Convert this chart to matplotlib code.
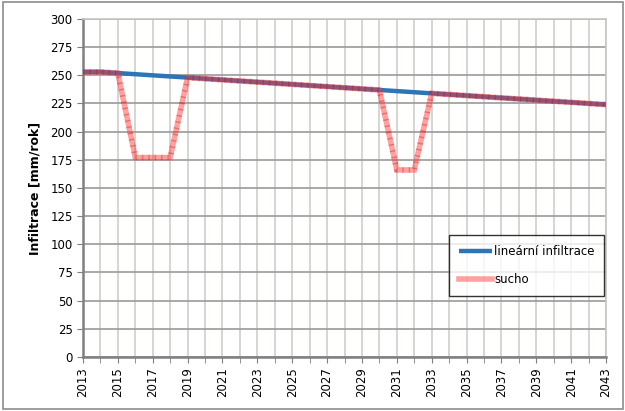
import matplotlib
matplotlib.use('Agg')
import matplotlib.pyplot as plt
from matplotlib.patches import Rectangle

# data
years = list(range(2013, 2044))
linear = [253, 253, 252, 251, 250, 249, 248, 247, 246, 245, 244, 243, 242, 241,
          240, 239, 238, 237, 236, 235, 234, 233, 232, 231, 230, 229, 228, 227,
          226, 225, 224]
sucho = list(linear)
sucho[3:6] = [177, 177, 177]      # 2016-2018
sucho[18:20] = [166, 166]         # 2031-2032

fig = plt.figure(figsize=(6.25, 4.11), dpi=100)
ax = fig.add_axes([0.1328, 0.1314, 0.8368, 0.8224])

ax.plot(years, linear, color='#2e75b6', lw=3.2, solid_capstyle='butt',
        label='lineární infiltrace', zorder=3)
ax.plot(years, sucho, color='#ff3030', lw=4, alpha=0.45, zorder=4,
        solid_joinstyle='miter', label='sucho')
ax.plot(years, sucho, color='#e00000', lw=4, alpha=0.35, zorder=5,
        linestyle=(0, (0.25, 0.9)))

ax.set_xlim(2013, 2043)
ax.set_ylim(0, 300)
ax.set_yticks(range(0, 301, 25))
ax.set_xticks(range(2013, 2044, 2))
ax.set_xticks(range(2013, 2044), minor=True)
ax.tick_params(axis='x', which='major', rotation=90, labelsize=8.5,
               length=4, color='#7f7f7f')
ax.tick_params(axis='x', which='minor', length=4, color='#7f7f7f')
ax.tick_params(axis='y', labelsize=8.5, length=4, color='#7f7f7f')

ax.grid(True, axis='y', color='#9a9a9a', lw=1.2, zorder=0)
ax.grid(True, axis='x', which='both', color='#d0cec8', lw=1.2, zorder=0)
ax.set_axisbelow(True)
for side in ['left', 'bottom']:
    ax.spines[side].set_color('#808080')
    ax.spines[side].set_linewidth(1.8)
for side in ['right', 'top']:
    ax.spines[side].set_color('#c8c6c0')
    ax.spines[side].set_linewidth(1.2)

ax.set_ylabel('Infiltrace [mm/rok]', fontsize=9, fontweight='bold', labelpad=6)

leg = ax.legend(loc='upper left', bbox_to_anchor=(0.70, 0.36), fontsize=8.5,
                frameon=True, fancybox=False, edgecolor='black',
                handlelength=2.8, handletextpad=0.2, labelspacing=1.3,
                borderpad=0.8, borderaxespad=0)
leg.get_frame().set_linewidth(1.0)

fig.patches.append(Rectangle((0.004, 0.005), 0.992, 0.99, transform=fig.transFigure,
                             fill=False, edgecolor='#8c8c8c', lw=1.2))

fig.savefig('out.png', dpi=100)
